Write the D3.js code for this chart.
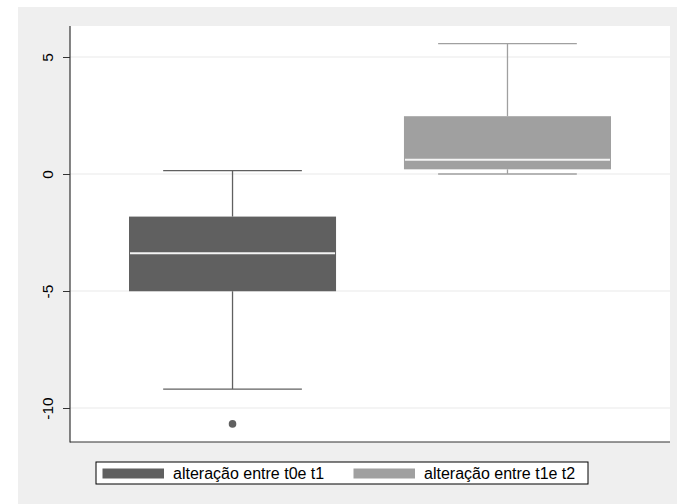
<!DOCTYPE html>
<html>
<head>
<meta charset="utf-8">
<script src="https://cdn.jsdelivr.net/npm/d3@7"></script>
<style>
html,body{margin:0;padding:0;background:#fff;}
svg{display:block;}
text{font-family:"Liberation Sans",Arial,sans-serif;}
</style>
</head>
<body>
<svg id="chart" width="677" height="504"></svg>
<script>
const categories = ["alteração entre t0e t1", "alteração entre t1e t2"];
const lowerWhisker = [-9.19, 0.0];
const q1 = [-5.01, 0.20];
const medians = [-3.39, 0.61];
const q3 = [-1.82, 2.47];
const upperWhisker = [0.14, 5.57];
const outliers = [[-10.68], []];
const colors = ["#606060", "#a0a0a0"];
const yTicks = [-10, -5, 0, 5];

const svg = d3.select("#chart");
const W = 677, H = 504;
const plot = {left: 70, right: 670, top: 26, bottom: 442};

svg.append("rect").attr("x", 18).attr("y", 7).attr("width", W - 18).attr("height", H - 7).attr("fill", "#efefef");
svg.append("rect").attr("x", plot.left).attr("y", plot.top)
  .attr("width", plot.right - plot.left).attr("height", plot.bottom - plot.top).attr("fill", "#ffffff");

const y = d3.scaleLinear()
  .domain([(174 - 442) / 23.4, (174 - 26) / 23.4])
  .range([plot.bottom, plot.top]);

const x = d3.scaleBand().domain(categories).range([plot.left, plot.right])
  .paddingInner(0.247).paddingOuter(0.2146);

// gridlines
svg.append("g").selectAll("line").data(yTicks).join("line")
  .attr("x1", plot.left).attr("x2", plot.right)
  .attr("y1", d => y(d)).attr("y2", d => y(d))
  .attr("stroke", "#eaeaea").attr("stroke-width", 1.2);

// boxes
const data = categories.map((c, i) => ({c, i, lw: lowerWhisker[i], q1: q1[i], med: medians[i], q3: q3[i], uw: upperWhisker[i], out: outliers[i], col: colors[i]}));
const bw = x.bandwidth();
const capW = bw * 0.67;
const g = svg.append("g");
data.forEach(d => {
  const cx = x(d.c) + bw / 2;
  const gg = g.append("g");
  gg.append("line").attr("x1", cx).attr("x2", cx).attr("y1", y(d.q3)).attr("y2", y(d.uw)).attr("stroke", d.col).attr("stroke-width", 1.3);
  gg.append("line").attr("x1", cx).attr("x2", cx).attr("y1", y(d.q1)).attr("y2", y(d.lw)).attr("stroke", d.col).attr("stroke-width", 1.3);
  gg.append("line").attr("x1", cx - capW / 2).attr("x2", cx + capW / 2).attr("y1", y(d.uw)).attr("y2", y(d.uw)).attr("stroke", d.col).attr("stroke-width", 1.3);
  gg.append("line").attr("x1", cx - capW / 2).attr("x2", cx + capW / 2).attr("y1", y(d.lw)).attr("y2", y(d.lw)).attr("stroke", d.col).attr("stroke-width", 1.3);
  gg.append("rect").attr("x", x(d.c)).attr("width", bw)
    .attr("y", y(d.q3)).attr("height", y(d.q1) - y(d.q3)).attr("fill", d.col);
  gg.append("line").attr("x1", x(d.c) + 1).attr("x2", x(d.c) + bw - 1)
    .attr("y1", y(d.med)).attr("y2", y(d.med)).attr("stroke", "#f4f4f4").attr("stroke-width", 2);
  gg.selectAll("circle").data(d.out).join("circle")
    .attr("cx", cx).attr("cy", v => y(v)).attr("r", 3.8).attr("fill", d.col);
});

// y axis
const yAxis = d3.axisLeft(y).tickValues(yTicks).tickSize(7).tickPadding(10).tickFormat(d3.format("d"));
const ya = svg.append("g").attr("transform", `translate(${plot.left},0)`).call(yAxis);
ya.select(".domain").remove();
ya.selectAll(".tick line").attr("stroke", "#333").attr("stroke-width", 1);
ya.selectAll(".tick text")
  .attr("font-size", 15.5).attr("fill", "#000")
  .attr("text-anchor", "middle")
  .attr("transform", `translate(-22,0) rotate(-90)`)
  .attr("x", 0).attr("dy", "0.35em")
  .text(d => d < 0 ? "-" + Math.abs(d) : String(d));

// axis lines
svg.append("line").attr("x1", plot.left).attr("x2", plot.left).attr("y1", plot.top).attr("y2", plot.bottom + 0.5).attr("stroke", "#333").attr("stroke-width", 1.2);
svg.append("line").attr("x1", plot.left).attr("x2", plot.right).attr("y1", plot.bottom).attr("y2", plot.bottom).attr("stroke", "#333").attr("stroke-width", 1.2);

// legend
const leg = svg.append("g");
leg.append("rect").attr("x", 96).attr("y", 462).attr("width", 492).attr("height", 22)
  .attr("fill", "#fff").attr("stroke", "#000").attr("stroke-width", 1);
const legX = [102.5, 353.5];
categories.forEach((c, i) => {
  leg.append("rect").attr("x", legX[i]).attr("y", 468.5).attr("width", 61.5).attr("height", 10)
    .attr("fill", colors[i]);
  leg.append("text").attr("x", legX[i] + 70.5).attr("y", 479).attr("font-size", 16).attr("fill", "#000").text(c);
});
</script>
</body>
</html>
